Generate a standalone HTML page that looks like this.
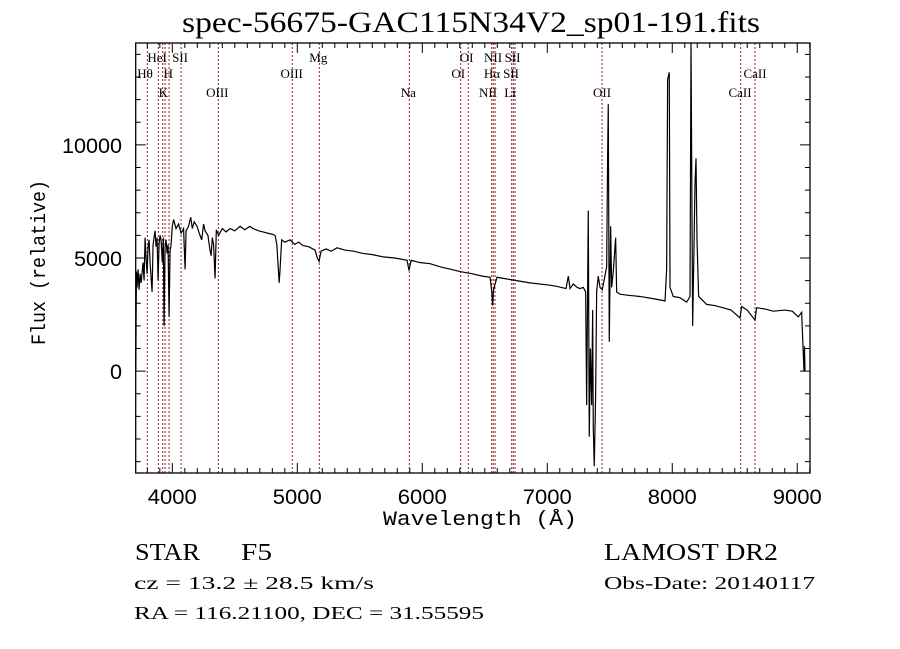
<!DOCTYPE html>
<html><head><meta charset="utf-8"><style>
html,body{margin:0;padding:0;background:#fff;width:900px;height:649px;overflow:hidden}
svg{display:block}
</style></head><body>
<svg id="chart" width="900" height="649" viewBox="0 0 900 649" xmlns="http://www.w3.org/2000/svg">
<rect x="0" y="0" width="900" height="649" fill="#fff"/>
<text x="182" y="32" font-family="Liberation Serif, serif" font-size="30" textLength="578" lengthAdjust="spacingAndGlyphs">spec-56675-GAC115N34V2_sp01-191.fits</text>
<g id="lines"></g>
<g id="labels"></g>
<g id="series"></g>
<g id="axes"></g>
<text x="383" y="525" font-family="Liberation Mono, monospace" font-size="20" textLength="194" lengthAdjust="spacingAndGlyphs">Wavelength (Å)</text>
<text transform="translate(45,345) rotate(-90)" x="0" y="0" font-family="Liberation Mono, monospace" font-size="20" textLength="165" lengthAdjust="spacingAndGlyphs">Flux (relative)</text>
<text x="135" y="560" font-family="Liberation Serif, serif" font-size="24" textLength="65" lengthAdjust="spacingAndGlyphs">STAR</text>
<text x="241" y="560" font-family="Liberation Serif, serif" font-size="24" textLength="31" lengthAdjust="spacingAndGlyphs">F5</text>
<text x="134" y="589" font-family="Liberation Serif, serif" font-size="18" textLength="240" lengthAdjust="spacingAndGlyphs">cz = 13.2 ± 28.5 km/s</text>
<text x="134" y="619" font-family="Liberation Serif, serif" font-size="18" textLength="350" lengthAdjust="spacingAndGlyphs">RA = 116.21100, DEC =  31.55595</text>
<text x="604" y="560" font-family="Liberation Serif, serif" font-size="24" textLength="174" lengthAdjust="spacingAndGlyphs">LAMOST DR2</text>
<text x="604" y="589" font-family="Liberation Serif, serif" font-size="18" textLength="211" lengthAdjust="spacingAndGlyphs">Obs-Date: 20140117</text>
</svg>
<script>
const waves=[3708,3710,3713,3718,3726,3734,3742,3750,3766,3774,3782,3790,3798,3806,3814,3822,3838,3846,3862,3870,3878,3886,3894,3902,3910,3920,3928,3934,3942,3950,3958,3966,3974,3982,3990,4000,4010,4030,4050,4070,4090,4102,4110,4130,4147,4160,4175,4198,4215,4235,4250,4262,4285,4300,4310,4320,4330,4342,4352,4370,4400,4430,4462,4500,4542,4580,4620,4646,4690,4726,4760,4800,4822,4836,4846,4855,4862,4875,4900,4942,4980,5010,5046,5090,5142,5160,5174,5190,5230,5270,5318,5380,5450,5526,5600,5686,5780,5878,5894,5910,5980,6062,6150,6230,6302,6400,6480,6542,6556,6563,6570,6598,6700,6862,7022,7075,7150,7168,7182,7208,7240,7262,7288,7307,7315,7328,7336,7345,7355,7363,7368,7376,7387,7395,7408,7422,7440,7475,7483,7488,7496,7507,7515,7528,7547,7555,7582,7650,7742,7850,7902,7942,7955,7963,7976,7982,8008,8060,8115,8142,8150,8163,8174,8182,8190,8198,8211,8275,8340,8408,8470,8542,8555,8600,8662,8675,8740,8808,8900,8960,9008,9035,9054,9058,9062];
const fluxes=[0,1900,4400,3700,4500,3600,4300,3900,4800,4000,5900,5000,4300,5500,5800,4800,3500,5600,6200,5500,5900,4000,5600,6000,5800,4800,5900,2000,5500,5800,5200,5600,2400,5300,5600,6400,6700,6300,6500,6100,6300,4500,6200,6400,6800,6300,6600,6400,6100,5800,6500,6200,6000,5400,5100,5900,5600,4100,6250,6000,6300,6150,6300,6200,6400,6250,6400,6300,6200,6150,6100,6050,6000,5600,4700,3900,4500,5800,5700,5800,5600,5700,5550,5500,5350,5000,4850,5300,5400,5300,5450,5350,5300,5200,5150,5050,5000,4900,4450,4900,4800,4750,4600,4500,4400,4300,4200,4150,3500,2900,3600,4150,4050,3900,3800,3750,3650,4200,3650,3850,3700,3650,3700,3500,-1500,7100,-2900,1000,-1500,2700,-2500,-4200,-1000,3500,4200,3700,3600,4600,9600,11800,1300,6400,3700,4400,5900,3500,3400,3350,3300,3200,3150,3100,4500,12900,13200,3700,3300,3250,3050,3300,14500,2000,5500,8300,9400,5800,3300,2950,2900,2800,2700,2350,2850,2700,2250,2800,2750,2650,2700,2650,2400,2600,0,1100,0];
const lineWaves=[3800,3888,3923,3942,3974,4070,4368,4960,5176,5896,6307,6368,6555,6568,6582,6715,6728,6742,7438,8547,8662];
const labelTexts=["HeI","SII","Mg","OI","NII","SII","Hθ","H","OIII","OI","Hα","SII","CaII","K","OIII","Na","NII","Li","OII","CaII"];
const labelWaves=[3878,4062,5168,6355,6566,6722,3782,3968,4955,6288,6558,6710,8662,3928,4360,5888,6526,6702,7438,8542];
const labelRows=[0,0,0,0,0,0,1,1,1,1,1,1,1,2,2,2,2,2,2,2];
const xTickLabels=[4000,5000,6000,7000,8000,9000];
const yTickLabels=[0,5000,10000];

const X0=135.7,X1=810,Y0=43,Y1=473;
const W0=3707,W1=9102,F0=-4500,F1=14500;
const xs=w=>X0+(w-W0)/(W1-W0)*(X1-X0);
const ys=f=>Y1-(f-F0)/(F1-F0)*(Y1-Y0);
const NS='http://www.w3.org/2000/svg';
function mk(tag,attrs,parent){const e=document.createElementNS(NS,tag);for(const k in attrs)e.setAttribute(k,attrs[k]);parent.appendChild(e);return e;}

const gL=document.getElementById('lines');
lineWaves.forEach(w=>{
  const l=mk('line',{x1:xs(w),x2:xs(w),y1:Y0,y2:Y1,stroke:'#8b2323','stroke-width':1,'stroke-dasharray':'2,2'},gL);
  
  
});
const rowY=[62,78,97];
const gT=document.getElementById('labels');
labelTexts.forEach((t,i)=>{
  const e=mk('text',{x:xs(labelWaves[i]),y:rowY[labelRows[i]],'text-anchor':'middle','font-family':'Liberation Serif, serif','font-size':13},gT);
  e.textContent=t;
  
  
});

const gS=document.getElementById('series');
let d='';
waves.forEach((w,i)=>{d+=(i?'L':'M')+xs(w).toFixed(2)+','+ys(fluxes[i]).toFixed(2);});
const p=mk('path',{d:d,fill:'none',stroke:'#000','stroke-width':1.2,'stroke-linejoin':'miter'},gS);



const gA=document.getElementById('axes');
const fr=mk('rect',{x:X0,y:Y0,width:X1-X0,height:Y1-Y0,fill:'none',stroke:'#000','stroke-width':1.3},gA);


let td='';
for(let w=3800;w<=9100;w+=100){const x=xs(w);const L=(w%1000===0)?10:5;td+=`M${x},${Y1}v${-L}M${x},${Y0}v${L}`;}
for(let f=-4000;f<=14000;f+=1000){const y=ys(f);const L=(f%5000===0)?10:5;td+=`M${X0},${y}h${L}M${X1},${y}h${-L}`;}
const tk=mk('path',{d:td,stroke:'#000','stroke-width':1,fill:'none'},gA);


xTickLabels.forEach(v=>{
  const e=mk('text',{x:xs(v),y:504,'text-anchor':'middle','font-family':'Liberation Sans, sans-serif','font-size':21,textLength:49,lengthAdjust:'spacingAndGlyphs'},gA);
  e.textContent=String(v);
  
  
});
yTickLabels.forEach(v=>{
  const s=String(v);
  const e=mk('text',{x:122,y:ys(v)+8,'text-anchor':'end','font-family':'Liberation Sans, sans-serif','font-size':21,textLength:12*s.length,lengthAdjust:'spacingAndGlyphs'},gA);
  e.textContent=s;
  
  
});
</script>
</body></html>
